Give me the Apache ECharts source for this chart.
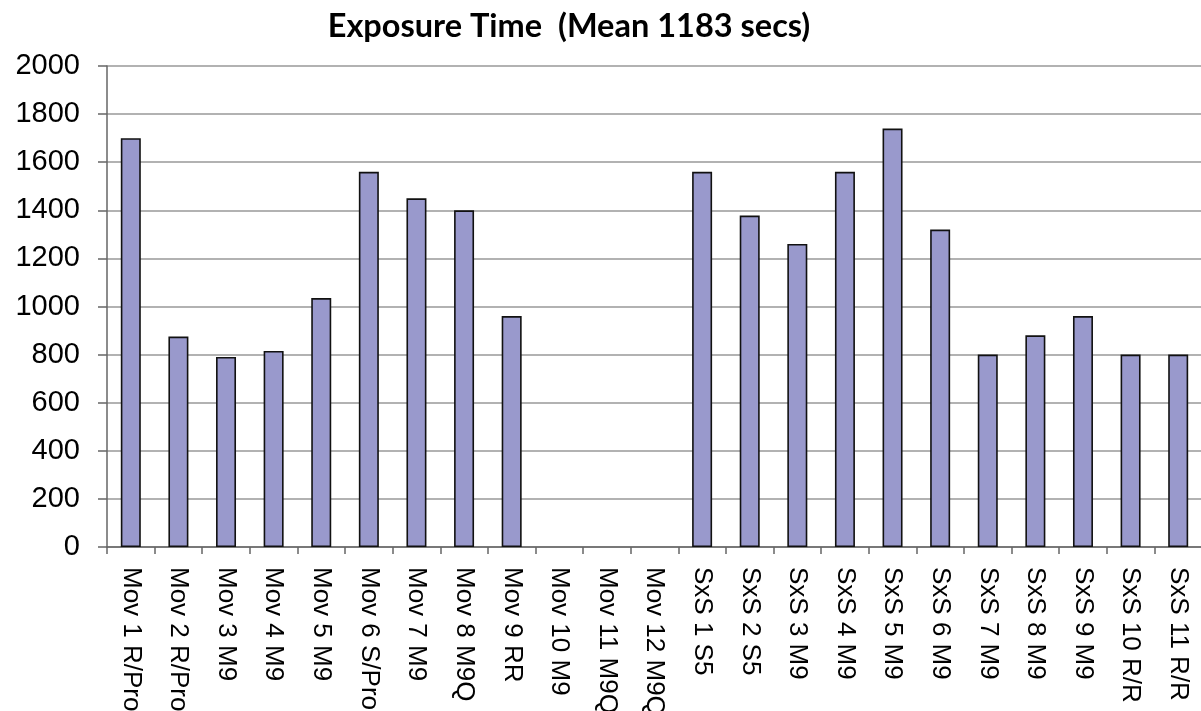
<!DOCTYPE html>
<html>
<head>
<meta charset="utf-8">
<script src="https://cdn.jsdelivr.net/npm/echarts@6/dist/echarts.min.js"></script>
<style>
html,body{margin:0;padding:0;background:#fff;}
#chart{width:1201px;height:711px;}
</style>
</head>
<body>
<div id="chart"></div>
<script>
const titleText = 'Exposure Time  (Mean 1183 secs)';
const categories = [
  'Mov 1 R/Pro','Mov 2 R/Pro','Mov 3 M9','Mov 4 M9','Mov 5 M9','Mov 6 S/Pro',
  'Mov 7 M9','Mov 8 M9Q','Mov 9 RR','Mov 10 M9','Mov 11 M9Q','Mov 12 M9Q',
  'SxS 1 S5','SxS 2 S5','SxS 3 M9','SxS 4 M9','SxS 5 M9','SxS 6 M9',
  'SxS 7 M9','SxS 8 M9','SxS 9 M9','SxS 10 R/R','SxS 11 R/R'
];
const exposureSecs = [
  1700, 875, 790, 815, 1035, 1560,
  1450, 1400, 960, null, null, null,
  1560, 1378, 1260, 1560, 1740, 1320,
  800, 880, 960, 800, 800
];
const yMin = 0, yMax = 2000, yStep = 200;

const chart = echarts.init(document.getElementById('chart'));
chart.setOption({
  animation: false,
  backgroundColor: '#ffffff',
  title: {
    text: titleText,
    left: 564, top: 5, textAlign: 'center',
    textStyle: { fontFamily: 'Lato', fontWeight: 'bold', fontSize: 32.5, color: '#000' }
  },
  grid: { left: 107, top: 66, width: 1095, height: 481, containLabel: false, outerBoundsMode: 'none' },
  xAxis: {
    type: 'category',
    data: categories,
    axisLine: { show: true, lineStyle: { color: '#666', width: 1.5 } },
    axisTick: { show: true, length: 7, lineStyle: { color: '#666', width: 1.5 } },
    axisLabel: {
      rotate: -90, interval: 0, margin: 20,
      fontFamily: 'Liberation Sans', fontSize: 26, color: '#000'
    }
  },
  yAxis: {
    type: 'value',
    min: yMin, max: yMax, interval: yStep,
    axisLine: { show: true, lineStyle: { color: '#666', width: 1.5 } },
    axisTick: { show: true, length: 9, inside: false, lineStyle: { color: '#666', width: 1.5 } },
    axisLabel: {
      margin: 27, fontFamily: 'Liberation Sans', fontSize: 29, color: '#000',
      formatter: function (v) { return String(v); }
    },
    splitLine: { show: true, lineStyle: { color: '#999', width: 1.5 } }
  },
  series: [{
    type: 'bar',
    data: exposureSecs,
    barWidth: 20,
    itemStyle: { color: '#9999cc', borderColor: '#111', borderWidth: 1.6 }
  }]
});
</script>
</body>
</html>
